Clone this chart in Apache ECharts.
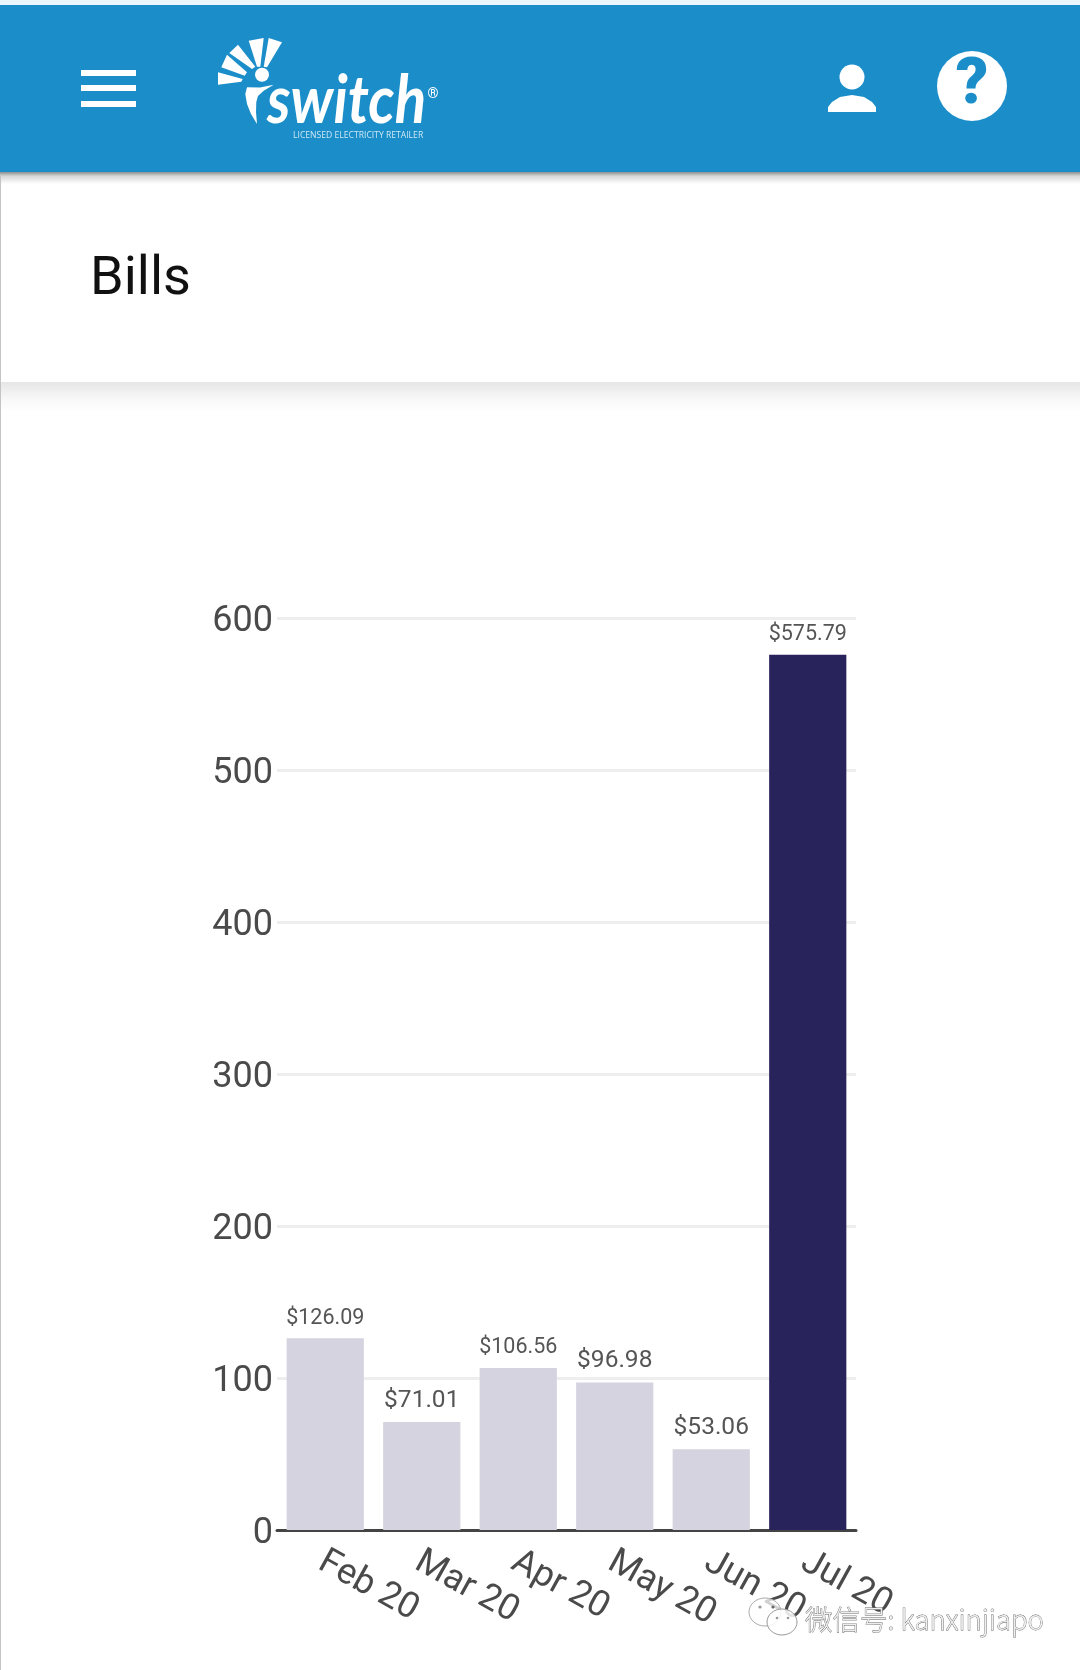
<!DOCTYPE html>
<html>
<head>
<meta charset="utf-8">
<style>html,body{margin:0;padding:0;background:#fff}#c{width:1080px;height:1670px}</style>
<script src="https://cdn.jsdelivr.net/npm/echarts@6/dist/echarts.min.js"></script>
</head>
<body>
<div id="c"></div>
<script>
const categories = ['Feb 20','Mar 20','Apr 20','May 20','Jun 20','Jul 20'];
const billValues = [126.09,71.01,106.56,96.98,53.06,575.79];
const pageTitle = 'Bills';
const logoWord = 'switch';
const logoTagline = 'LICENSED ELECTRICITY RETAILER';
const watermarkText = '微信号: kanxinjiapo';

const FONT = 'Roboto, sans-serif';
const BLUE = '#1b8ec9';
const fanBlades = [
  [[218,72.3],[242.7,79],[241.3,81.7],[218,84.7]],
  [[227,54.7],[247,72.3],[244.7,75.7],[221.3,67.3]],
  [[238,44.7],[255.3,66.7],[252,69],[229.3,53]],
  [[248.7,40.7],[263.7,38],[260.3,66.7],[257,66.7]],
  [[268.7,38],[282,42.3],[267,67.3],[263.7,66.7]]
];
const txt = (x,y,text,fill,font,align,extra) => Object.assign({type:'text',z:(extra&&extra.z)||3,x:x,y:y,style:Object.assign({text:text,fill:fill,font:font,align:align,verticalAlign:'middle'},extra&&extra.style)},extra&&extra.el);

const graphics = [
  {type:'rect',z:0,shape:{x:0,y:0,width:1080,height:5},style:{fill:'#eaf6fb'}},
  {type:'rect',z:1,shape:{x:0,y:172,width:1080,height:12},style:{fill:{type:'linear',x:0,y:0,x2:0,y2:1,colorStops:[{offset:0,color:'#8f8f8f'},{offset:.35,color:'#d8d8d8'},{offset:1,color:'#ffffff'}]}}},
  {type:'rect',z:2,shape:{x:0,y:5,width:1080,height:167},style:{fill:BLUE}},
  {type:'rect',z:1,shape:{x:0,y:382,width:1080,height:30},style:{fill:{type:'linear',x:0,y:0,x2:0,y2:1,colorStops:[{offset:0,color:'#e6e6e6'},{offset:.5,color:'#f6f6f6'},{offset:1,color:'#ffffff'}]}}},
  {type:'rect',z:3,shape:{x:0,y:174,width:1,height:1496},style:{fill:'#c4c4c4'}},
  // menu icon
  {type:'rect',z:3,shape:{x:81,y:70,width:55,height:6},style:{fill:'#fff'}},
  {type:'rect',z:3,shape:{x:81,y:85,width:55,height:6},style:{fill:'#fff'}},
  {type:'rect',z:3,shape:{x:81,y:101,width:55,height:6},style:{fill:'#fff'}},
  // logo
  {type:'circle',z:3,shape:{cx:262,cy:74.7,r:7},style:{fill:'#fff'}},
  {type:'polygon',z:3,shape:{points:[[247,87.3],[260,87.5],[273.7,84.7],[263.7,90.7],[258,96],[256.3,102],[256,112],[257,124],[251,114],[247,104],[245.3,94]]},style:{fill:'#fff'}},
  txt(267,102,logoWord,'#fff','italic 700 66px Lato, sans-serif','left',{el:{scaleX:.88}}),
  txt(433,94,'®','#fff','700 14px Roboto, sans-serif','center'),
  txt(293,136,logoTagline,'#cfe8f5','400 8.6px "Open Sans", sans-serif','left'),
  // user icon
  {type:'circle',z:3,shape:{cx:852,cy:77,r:12.5},style:{fill:'#fff'}},
  {type:'polygon',z:3,shape:{points:[[828,112],[828,107],[832,102],[840,97],[852,95],[864,97],[872,102],[876,107],[876,112]]},style:{fill:'#fff'}},
  // help icon
  {type:'circle',z:3,shape:{cx:972,cy:86,r:35},style:{fill:'#fff'}},
  txt(972,87,'?',BLUE,'900 64px Roboto, sans-serif','center',{z:4}),
  // title
  txt(90,280,pageTitle,'#111','400 54px '+FONT,'left'),
  // watermark
  {type:'ellipse',z:20,shape:{cx:765,cy:1612,rx:16,ry:14},style:{fill:'rgba(255,255,255,.75)',stroke:'#aaa',lineWidth:1}},
  {type:'ellipse',z:21,shape:{cx:782,cy:1622,rx:15,ry:13},style:{fill:'rgba(255,255,255,.85)',stroke:'#999',lineWidth:1}},
  {type:'circle',z:22,shape:{cx:760,cy:1607,r:1.6},style:{fill:'#999'}},
  {type:'circle',z:22,shape:{cx:773,cy:1607,r:1.6},style:{fill:'#666'}},
  {type:'circle',z:22,shape:{cx:777,cy:1618,r:1.3},style:{fill:'#999'}},
  {type:'circle',z:22,shape:{cx:788,cy:1618,r:1.3},style:{fill:'#999'}},
  txt(805,1620,watermarkText,'#eeeeee','300 27.5px "Noto Sans CJK SC", sans-serif','left',{z:22,style:{stroke:'#666',lineWidth:.8}})
];
fanBlades.forEach(p => graphics.push({type:'polygon',z:3,shape:{points:p},style:{fill:'#fff'}}));

const barData = billValues.map((v,i) => {
  const text = '$'+v.toFixed(2);
  return {
    value:v,
    itemStyle:{color:i===billValues.length-1?'#29235c':'#d4d3df'},
    label:{show:true,position:'top',distance:9,formatter:text,color:'#555',fontFamily:FONT,fontSize:text.length>6?21.5:24.5}
  };
});

const chart = echarts.init(document.getElementById('c'),null,{renderer:'canvas',width:1080,height:1670});
chart.setOption({
  animation:false,
  backgroundColor:'#fff',
  grid:{left:277,right:224,top:618,bottom:140,containLabel:false},
  xAxis:{type:'category',data:categories,
    axisLine:{show:true,onZero:true,lineStyle:{color:'#444',width:3}},
    axisTick:{show:false},
    axisLabel:{rotate:-29,interval:0,margin:22,color:'#4a4a4a',fontFamily:FONT,fontSize:36,hideOverlap:false,verticalAlign:'top',lineHeight:18}},
  yAxis:{type:'value',min:0,max:600,interval:100,
    axisLine:{show:false},axisTick:{show:false},
    splitLine:{show:true,lineStyle:{color:'#eeeeee',width:3}},
    axisLabel:{margin:4,color:'#4a4a4a',fontFamily:FONT,fontSize:36,verticalAlign:'top',lineHeight:7}},
  series:[{type:'bar',data:barData,barCategoryGap:'20%'}],
  graphic:{elements:graphics}
});
</script>
</body>
</html>
